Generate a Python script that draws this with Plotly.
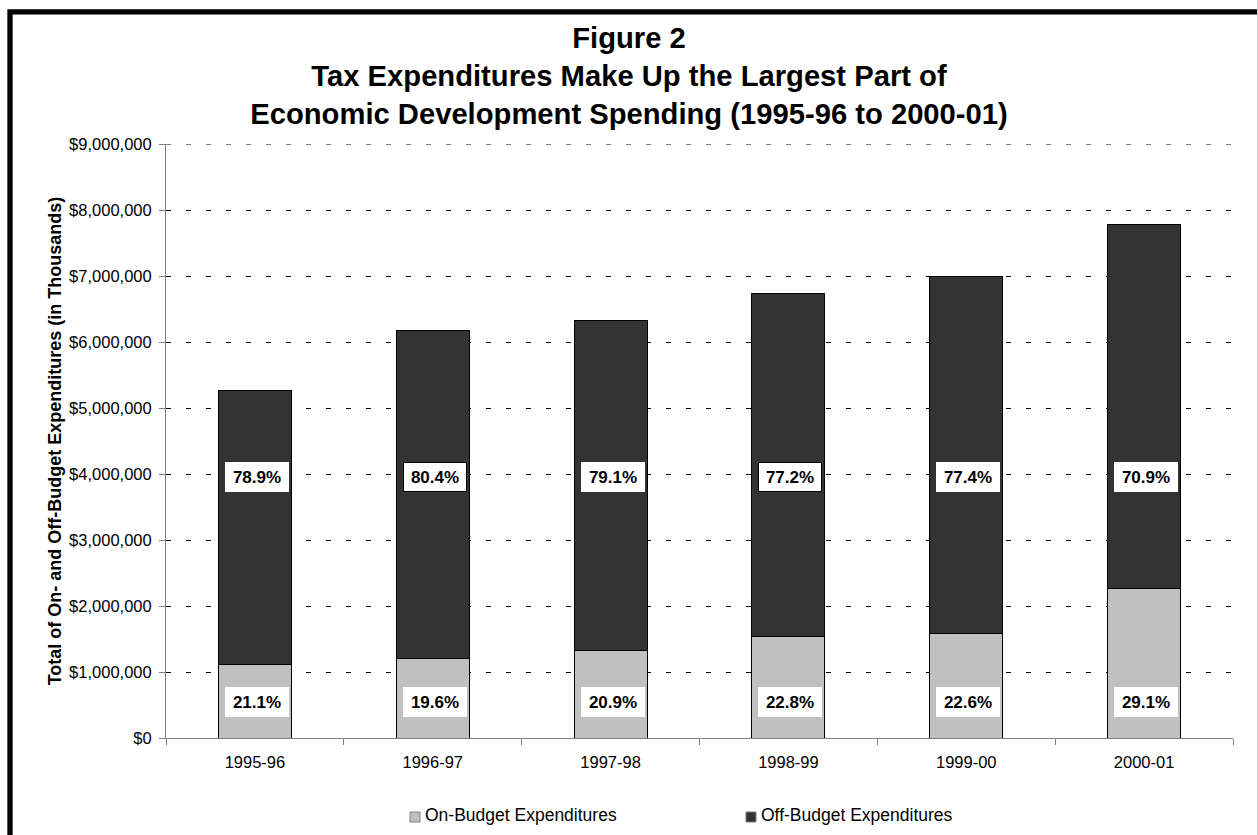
import plotly.graph_objects as go

# Economic development spending, in thousands of dollars
years = ["1995-96", "1996-97", "1997-98", "1998-99", "1999-00", "2000-01"]
total_spending = [5270000, 6180000, 6330000, 6740000, 6990000, 7780000]
on_budget_pct = [21.1, 19.6, 20.9, 22.8, 22.6, 29.1]
off_budget_pct = [78.9, 80.4, 79.1, 77.2, 77.4, 70.9]
series_names = ["On-Budget Expenditures", "Off-Budget Expenditures"]
y_ticks = [0, 1000000, 2000000, 3000000, 4000000, 5000000,
           6000000, 7000000, 8000000, 9000000]
y_tick_labels = ["$0", "$1,000,000", "$2,000,000", "$3,000,000", "$4,000,000",
                 "$5,000,000", "$6,000,000", "$7,000,000", "$8,000,000",
                 "$9,000,000"]

on_budget = [t * p / 100 for t, p in zip(total_spending, on_budget_pct)]
off_budget = [t * p / 100 for t, p in zip(total_spending, off_budget_pct)]

FONT = "Liberation Sans, Arial, Helvetica, sans-serif"
ON_COLOR = "#C0C0C0"
OFF_COLOR = "#333333"
AXIS_COLOR = "#808080"
GRID_DASH = "5px,15px"

W, H = 1258, 835
ML, MR, MT, MB = 166, 25, 144, 97
PW, PH = W - ML - MR, H - MT - MB


def px_x(x):
    """Page pixel column -> paper x."""
    return (x - ML) / PW


def px_y(y):
    """Page pixel row -> paper y."""
    return (H - MB - y) / PH


fig = go.Figure()
fig.add_trace(go.Bar(
    x=years, y=on_budget, name=series_names[0],
    marker=dict(color=ON_COLOR, line=dict(color="#000000", width=1)),
))
fig.add_trace(go.Bar(
    x=years, y=off_budget, name=series_names[1],
    marker=dict(color=OFF_COLOR, line=dict(color="#000000", width=1)),
))

# Percentage boxes drawn on each segment
boxed = {"1996-97", "1998-99"}
annotations = []
for yr, p_on, p_off in zip(years, on_budget_pct, off_budget_pct):
    for pct, ypos in ((p_off, 3950000), (p_on, 545000)):
        has_frame = yr in boxed and pct == p_off
        annotations.append(dict(
            x=yr, y=ypos, xref="x", yref="y", xshift=2,
            text=f"<b>{pct:.1f}%</b>", showarrow=False,
            font=dict(family=FONT, size=17, color="#000000"),
            bgcolor="#FFFFFF",
            bordercolor="#000000" if has_frame else "#FFFFFF",
            borderwidth=1, borderpad=3, width=56, height=22,
        ))

# Legend drawn as swatches with captions beneath the axis
legend_items = [(series_names[0], ON_COLOR, 410), (series_names[1], OFF_COLOR, 746)]
shapes = []
for name, color, x0 in legend_items:
    shapes.append(dict(
        type="rect", xref="paper", yref="paper",
        x0=px_x(x0), x1=px_x(x0 + 10), y0=px_y(822), y1=px_y(812),
        fillcolor=color, line=dict(color=AXIS_COLOR, width=1),
    ))
    annotations.append(dict(
        x=px_x(x0 + 13), y=px_y(815), xref="paper", yref="paper",
        xanchor="left", yanchor="middle", text=name, showarrow=False,
        font=dict(family=FONT, size=17.5, color="#000000"),
    ))

# Top gridline at the end of the value range
shapes.append(dict(
    type="line", xref="paper", yref="y", layer="below",
    x0=0, x1=1, y0=y_ticks[-1], y1=y_ticks[-1],
    line=dict(color="#000000", width=1, dash=GRID_DASH),
))

# Outer chart frame
shapes.append(dict(
    type="rect", xref="paper", yref="paper", layer="above",
    x0=px_x(10), x1=px_x(1400), y0=px_y(1000), y1=px_y(11.8),
    line=dict(color="#000000", width=5.3), fillcolor="rgba(0,0,0,0)",
))
shapes.append(dict(
    type="line", xref="paper", yref="paper",
    x0=px_x(1257.5), x1=px_x(1257.5), y0=px_y(835), y1=px_y(0),
    line=dict(color="#C8C8C8", width=1),
))

fig.update_layout(
    width=W, height=H, autosize=False,
    margin=dict(l=ML, r=MR, t=MT, b=MB),
    paper_bgcolor="#FFFFFF", plot_bgcolor="#FFFFFF",
    barmode="stack", bargap=0.59,
    showlegend=False,
    font=dict(family=FONT, color="#000000"),
    title=dict(
        text="<b>Figure 2<br>Tax Expenditures Make Up the Largest Part of<br>"
             "Economic Development Spending (1995-96 to 2000-01)</b>",
        font=dict(family=FONT, size=29.2, color="#000000"),
        x=0.5, xref="container", xanchor="center",
        y=1 - 48 / H, yref="container", yanchor="middle",
    ),
    xaxis=dict(
        type="category", tickson="boundaries",
        ticks="outside", ticklen=6, tickcolor=AXIS_COLOR,
        showline=True, linecolor=AXIS_COLOR, linewidth=1,
        showgrid=False, zeroline=False, ticklabelstandoff=9,
        tickfont=dict(family=FONT, size=16.5, color="#000000"),
    ),
    yaxis=dict(
        range=[0, 9000000], tickvals=y_ticks, ticktext=y_tick_labels,
        ticks="outside", ticklen=6, tickcolor=AXIS_COLOR,
        showline=True, linecolor=AXIS_COLOR, linewidth=1,
        showgrid=True, gridcolor="#000000", gridwidth=1, griddash=GRID_DASH,
        zeroline=False, ticklabelstandoff=4,
        tickfont=dict(family=FONT, size=16.5, color="#000000"),
        title=dict(
            text="<b>Total of On- and Off-Budget Expenditures (in Thousands)</b>",
            font=dict(family=FONT, size=18, color="#000000"),
            standoff=2,
        ),
    ),
    annotations=annotations,
    shapes=shapes,
)

fig.write_html("out.html")
